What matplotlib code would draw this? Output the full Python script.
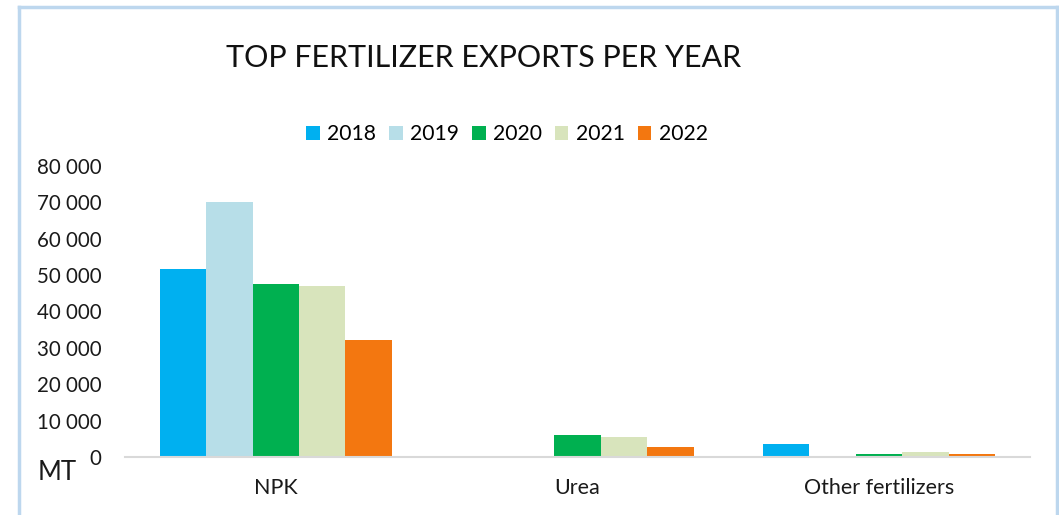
import numpy as np
import matplotlib.pyplot as plt
from matplotlib.lines import Line2D
from matplotlib.patches import Patch

categories = ["NPK", "Urea", "Other fertilizers"]
years = ["2018", "2019", "2020", "2021", "2022"]
exports = {
    "2018": [51700, 0, 3500],
    "2019": [70100, 0, 0],
    "2020": [47600, 6000, 800],
    "2021": [47000, 5500, 1500],
    "2022": [32000, 2700, 700],
}
colors = ["#00B0F0", "#B7DEE8", "#00B050", "#D8E4BC", "#F37710"]
yticks = [0, 10000, 20000, 30000, 40000, 50000, 60000, 70000, 80000]

plt.rcParams["font.family"] = ["Lato", "DejaVu Sans"]

fig = plt.figure(figsize=(10.59, 5.15), dpi=100)
ax = fig.add_axes([0.118, 0.1126, 0.8546, 0.5656])

x = np.arange(len(categories))
group_w = 0.77
bar_w = group_w / len(years)
for i, (yr, col) in enumerate(zip(years, colors)):
    offs = (i - (len(years) - 1) / 2) * bar_w
    ax.bar(x + offs, exports[yr], width=bar_w, color=col, label=yr, zorder=2)

ax.set_xlim(-0.5, len(categories) - 0.5)
ax.set_ylim(0, 80000)
ax.set_yticks(yticks)
ax.set_yticklabels([f"{v:,}".replace(",", " ") for v in yticks])
ax.set_xticks(x)
ax.set_xticklabels(categories)
ax.tick_params(axis="y", length=0, pad=17, labelsize=14.8, colors="#1a1a1a")
ax.tick_params(axis="x", length=0, pad=15, labelsize=15.5, colors="#1a1a1a")
for side in ["top", "right", "left"]:
    ax.spines[side].set_visible(False)
ax.spines["bottom"].set_color("#D9D9D9")
ax.spines["bottom"].set_linewidth(1.5)

fig.text(38 / 1059, 1 - 473 / 515, "MT", fontsize=18.5, va="center", ha="left",
         color="#1a1a1a")

fig.text(484 / 1059, 1 - 58 / 515, "TOP FERTILIZER EXPORTS PER YEAR",
         fontsize=22, ha="center", va="center", color="#111111")

handles = [Patch(facecolor=c, edgecolor="none") for c in colors]
fig.legend(handles, years, loc="center", bbox_to_anchor=(507 / 1059, 1 - 134 / 515),
           ncol=5, frameon=False, fontsize=15.2, handlelength=0.65, handleheight=0.65,
           handletextpad=0.35, columnspacing=0.6, borderpad=0)

# light blue frame around the chart area
frame_kw = dict(color="#BDD7EE", linewidth=2.5, transform=fig.transFigure)
top = 1 - 7 / 515
left = 19 / 1059
right = 1057 / 1059
fig.add_artist(Line2D([left, right], [top, top], **frame_kw))
fig.add_artist(Line2D([left, left], [0, top], **frame_kw))
fig.add_artist(Line2D([right, right], [0, top], **frame_kw))

fig.savefig("out.png", dpi=100)
